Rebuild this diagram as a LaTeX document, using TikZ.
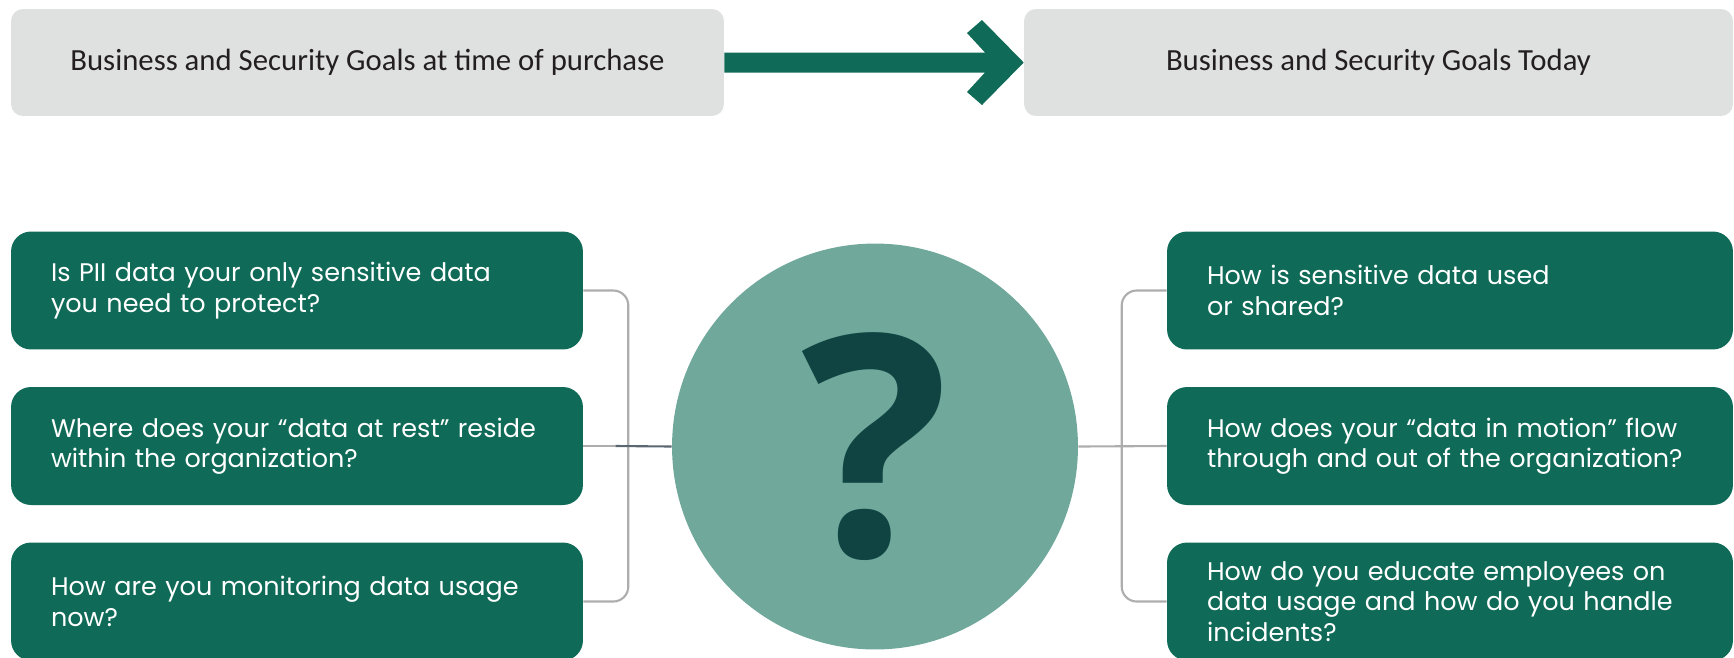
\documentclass[tikz,border=0pt]{standalone}
\usepackage{fontspec}
\usepackage{xcolor}
\usepackage{tikz}
\usetikzlibrary{calc,positioning}
\setmainfont{Open Sans}
\newfontfamily\goalfont{Carlito}
\newfontfamily\askfont{Poppins}
\newfontfamily\markfont{Open Sans}
\definecolor{boxgray}{HTML}{DFE0E0}
\definecolor{ink}{HTML}{231F20}
\definecolor{pine}{HTML}{0F6B57}
\definecolor{sage}{HTML}{70A89B}
\definecolor{deep}{HTML}{0F4443}
\definecolor{wire}{HTML}{ADADAD}
\definecolor{slate}{HTML}{5A6670}
\tikzset{
  goal/.style={rectangle, rounded corners=0.24cm, fill=boxgray, text=ink, inner sep=0pt,
    minimum height=2.14cm, font=\goalfont\fontsize{17.5}{20}\selectfont},
  qbox/.style={rectangle, rounded corners=0.4cm, fill=pine, text=white, inner sep=0pt,
    minimum height=2.36cm, align=left, execute at begin node={\leftskip=0.8cm},
    font=\askfont\fontsize{14.5}{17.3}\selectfont},
  lbox/.style={qbox, text width=11.44cm},
  rbox/.style={qbox, text width=11.32cm},
  hub/.style={circle, fill=sage, text=deep, inner sep=0pt, minimum size=8.12cm,
    font=\markfont\bfseries\fontsize{176}{176}\selectfont},
  link/.style={draw=wire, line width=1.2pt, rounded corners=0.3cm},
  dlink/.style={draw=slate, line width=1.2pt},
  goalarrow/.style={fill=pine}
}
\begin{document}
\begin{tikzpicture}[x=0.02cm, y=-0.02cm]
  \useasboundingbox (0,0) rectangle (1734,657);
  \clip (0,0) rectangle (1734,657);

  \node[goal, minimum width=14.26cm] (Then) at (367.5,62.5) {Business and Security Goals at time of purchase};
  \node[goal, minimum width=14.18cm] (Now) at (1378.5,62.5) {Business and Security Goals Today};

  \fill[goalarrow] ($(Then.east)+(0,-10)$) -- (985,52.5) -- (967,33) -- (982,20)
    -- (Now.west) -- (982,105) -- (967,92) -- (985,72.5) -- ($(Then.east)+(0,10)$) -- cycle;

  \node[hub] (Q) at (875,446.5) {?};

  \node[lbox] (L1) at (297,290.5) {Is PII data your only sensitive data\\you need to protect?};
  \node[lbox] (L2) at (297,446) {Where does your “data at rest” reside\\within the organization?};
  \node[lbox] (L3) at (297,601.5) {How are you monitoring data usage\\now?};

  \node[rbox] (R1) at (1450,290.5) {How is sensitive data used\\or shared?};
  \node[rbox] (R2) at (1450,446) {How does your “data in motion” flow\\through and out of the organization?};
  \node[rbox] (R3) at (1450,601.5) {How do you educate employees on\\data usage and how do you handle\\incidents?};

  \draw[link] (L1.east) -- ++(45,0) |- (L3.east);
  \draw[link] (L2.east) -- ++(32,0) coordinate (Lmid);
  \draw[dlink] (Lmid) -- (Q.west);

  \draw[link] (R1.west) -- ++(-45,0) |- (R3.west);
  \draw[link] (Q.east) -- (R2.west);
\end{tikzpicture}
\end{document}
